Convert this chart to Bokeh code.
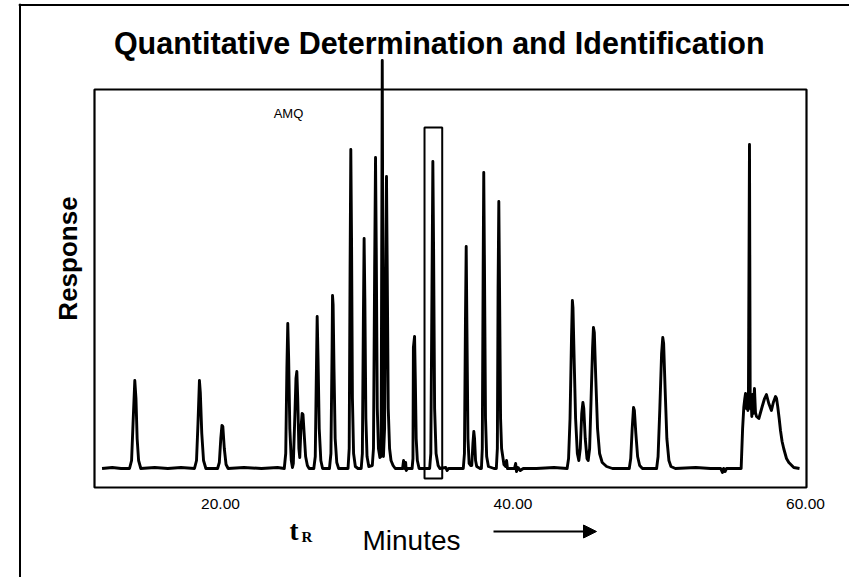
from bokeh.plotting import figure
from bokeh.models import Range1d, FixedTicker, BoxAnnotation, Span, Label, Arrow, NormalHead
from bokeh.embed import file_html
from bokeh.resources import INLINE

# ---------------- data ----------------
trace_minutes = [
    11.90, 12.60, 13.20,
    13.78, 13.92, 14.02, 14.14, 14.22, 14.30, 14.40, 14.55,
    15.50, 16.40, 17.30,
    18.22, 18.36, 18.46, 18.56, 18.62, 18.72, 18.84, 19.00,
    19.80, 19.92, 20.02, 20.10, 20.16, 20.26, 20.38, 20.52,
    21.60, 22.80, 23.90,
    24.36, 24.46, 24.54, 24.60, 24.66, 24.74, 24.84, 24.92,
    24.98, 25.10, 25.16, 25.22, 25.28, 25.36, 25.42,
    25.50, 25.58, 25.64, 25.72, 25.82, 25.94, 26.06,
    26.38, 26.48, 26.55, 26.61, 26.67, 26.75, 26.86, 26.98,
    27.45, 27.55, 27.63, 27.66, 27.70, 27.76, 27.84, 27.95, 28.08,
    28.72, 28.80, 28.86, 28.91, 28.96, 29.02, 29.10, 29.22, 29.40,
    29.62, 29.70, 29.77, 29.82, 29.87, 29.94, 30.02, 30.14,
    30.38, 30.46, 30.54, 30.60, 30.65, 30.72, 30.80, 30.90,
    30.98, 31.03, 31.06, 31.09, 31.14,
    31.22, 31.30, 31.35, 31.40, 31.47, 31.56, 31.66, 31.80, 31.95,
    32.45, 32.52, 32.56, 32.66, 32.70, 32.80,
    33.10, 33.16, 33.19, 33.27, 33.32, 33.38, 33.46, 33.58,
    34.30, 34.38, 34.46, 34.52, 34.57, 34.64, 34.74, 34.88, 35.00,
    35.40, 35.50, 35.60, 36.30,
    36.60, 36.68, 36.75, 36.80, 36.85, 36.92, 37.00, 37.10,
    37.18, 37.26, 37.32, 37.37, 37.44, 37.52, 37.75,
    37.84, 37.90, 37.96, 38.00, 38.05, 38.12, 38.20, 38.32, 38.70,
    38.86, 38.93, 38.98, 39.03, 39.08, 39.15, 39.22, 39.30, 39.38, 39.50, 39.56, 39.62,
    40.10, 40.18, 40.24, 40.34, 40.50, 40.70, 41.60, 42.80,
    43.70, 43.80, 43.90, 44.00, 44.06, 44.10, 44.18, 44.28, 44.40, 44.50,
    44.60, 44.70, 44.78, 44.84, 44.94, 45.06, 45.14,
    45.24, 45.34, 45.44, 45.50, 45.56, 45.66, 45.78, 45.92, 46.10, 46.40, 46.80,
    47.95, 48.05, 48.15, 48.24, 48.30, 48.40, 48.52, 48.66, 48.85,
    49.82, 49.92, 50.04, 50.16, 50.24, 50.30, 50.40, 50.52, 50.66, 50.80, 51.10,
    52.50, 53.50, 54.20, 54.32, 54.40, 54.50, 54.60, 55.50,
    55.60, 55.70, 55.78, 55.85, 55.90, 55.95, 56.01, 56.06, 56.10, 56.17,
    56.22, 56.28, 56.33, 56.38, 56.42, 56.51, 56.58, 56.65, 56.81, 57.04,
    57.20, 57.33, 57.49, 57.67, 57.80, 57.95, 58.02, 58.10, 58.20, 58.29,
    58.40, 58.51, 58.70, 58.86, 59.20, 59.59,
]
trace_response = [
    0, 1, 0,
    0, 8, 45, 88, 70, 30, 8, 0,
    1, 0, 1,
    0, 8, 45, 88, 76, 35, 8, 0,
    0, 6, 30, 43, 42, 20, 4, 0,
    1, 0, 1,
    0, 15, 100, 145, 110, 40, 8, 1,
    5, 60, 90, 97, 70, 20, 11,
    40, 55, 54, 35, 12, 3, 0,
    0, 12, 90, 152, 110, 40, 8, 0,
    0, 15, 120, 173, 164, 100, 30, 6, 0,
    0, 20, 200, 319, 230, 70, 15, 2, 0,
    0, 15, 150, 230, 170, 50, 12, 2,
    3, 20, 200, 311, 220, 60, 20, 11,
    12, 250, 408, 250, 12,
    40, 200, 292, 200, 60, 20, 8, 3, 0,
    0, 8, 0, 6, -2, 0,
    0, 10, 121, 132, 90, 30, 8, 0,
    0, 15, 180, 307, 220, 60, 15, 3, 0,
    1, -2, 0, 0,
    0, 15, 150, 222, 140, 30, 5, 3,
    3, 25, 37, 30, 8, 2, 0,
    0, 20, 200, 296, 200, 50, 12, 2, 0,
    0, 20, 180, 267, 180, 50, 20, 12, 4, 2, 8, 0,
    0, 5, -3, 1, -2, 0, 0, 1,
    0, 10, 50, 130, 168, 161, 110, 50, 15, 8,
    20, 55, 66, 60, 30, 10, 8,
    20, 70, 120, 141, 136, 90, 40, 15, 6, 2, 0,
    0, 10, 40, 61, 58, 35, 12, 3, 0,
    0, 12, 60, 115, 131, 125, 80, 30, 8, 2, 0,
    1, 0, 0, -4, 0, -3, 0, 0,
    0, 40, 61, 70, 75, 60, 72, 58, 78, 324,
    60, 70, 52, 74, 55, 80, 56, 52, 50, 62,
    70, 74, 65, 58, 66, 72, 70, 62, 50, 38,
    27, 20, 10, 6, 1, 0,
]
tick_values = [20, 40, 60]
tick_labels = ["20.00", "40.00", "60.00"]
highlight_minutes = [33.95, 35.16]   # window marked around the peak at ~34.5 min
highlight_response = [-10, 341]

title_text = "Quantitative Determination and  Identification"
sample_text = "AMQ"
y_label_text = "Response"
x_label_text = "Minutes"

# ---------------- layout helpers (canvas pixels -> data units) ----------------
PX_PER_MIN = 14.625
def t_at(px):
    return 20 + (px - 220) / PX_PER_MIN

def r_at(py):
    return 468 - py

W, H = 849, 577
FL, FT = 18, 3   # frame left / top in canvas pixels
p = figure(width=W, height=H, output_backend="svg", toolbar_location=None, title=None,
           x_range=Range1d(t_at(FL), t_at(W)), y_range=Range1d(r_at(H), r_at(FT)),
           min_border_left=FL, min_border_top=FT, min_border_right=0, min_border_bottom=0)
p.background_fill_color = "white"
p.border_fill_color = "white"
p.outline_line_color = None
p.grid.visible = False
p.yaxis.visible = False

xa = p.xaxis[0]
xa.fixed_location = r_at(487)
xa.ticker = FixedTicker(ticks=tick_values)
xa.major_label_overrides = {v: s for v, s in zip(tick_values, tick_labels)}
xa.axis_line_color = None
xa.major_tick_line_color = None
xa.minor_tick_line_color = None
xa.major_tick_out = 0
xa.major_tick_in = 0
xa.major_label_standoff = 11
xa.major_label_text_font = "Liberation Sans"
xa.major_label_text_font_size = "15.5px"
xa.major_label_text_color = "black"

# outer page frame (left and top edges)
p.add_layout(Span(location=t_at(19.5), dimension="height", line_color="black", line_width=2))
p.add_layout(Span(location=r_at(4.5), dimension="width", line_color="black", line_width=2))

# plot box
p.add_layout(BoxAnnotation(left=t_at(94), right=t_at(806), bottom=r_at(487), top=r_at(89),
                           fill_alpha=0, line_color="black", line_alpha=1, line_width=2.2))

# highlight window
p.add_layout(BoxAnnotation(left=highlight_minutes[0], right=highlight_minutes[1],
                           bottom=highlight_response[0], top=highlight_response[1],
                           fill_alpha=0, line_color="black", line_alpha=1, line_width=2))

# chromatogram trace
p.line(trace_minutes, trace_response, line_color="black", line_width=2.9, line_join="round")

# texts
p.add_layout(Label(x=t_at(443), y=r_at(42), text=title_text, text_font="Liberation Sans",
                   text_font_style="bold", text_font_size="30.5px", text_align="center",
                   text_baseline="middle", text_color="black"))
p.add_layout(Label(x=t_at(288), y=r_at(113), text=sample_text, text_font="Liberation Sans",
                   text_font_size="13px", text_align="center", text_baseline="middle",
                   text_color="black"))
p.add_layout(Label(x=t_at(67), y=r_at(258), text=y_label_text, text_font="Liberation Sans",
                   text_font_style="bold", text_font_size="26px", text_align="center",
                   text_baseline="middle", angle=90, angle_units="deg", text_color="black"))
p.add_layout(Label(x=t_at(289), y=r_at(530), text="t", text_font="Liberation Serif",
                   text_font_style="bold", text_font_size="27px", text_align="left",
                   text_baseline="alphabetic", text_color="black"))
p.add_layout(Label(x=t_at(301), y=r_at(536), text="R", text_font="Liberation Serif",
                   text_font_style="bold", text_font_size="15px", text_align="left",
                   text_baseline="alphabetic", text_color="black"))
p.add_layout(Label(x=t_at(411), y=r_at(540), text=x_label_text, text_font="Liberation Sans",
                   text_font_size="28px", text_align="center", text_baseline="alphabetic",
                   text_color="black"))
p.add_layout(Arrow(end=NormalHead(size=13, fill_color="black", line_color="black"),
                   x_start=t_at(493), y_start=r_at(531), x_end=t_at(596), y_end=r_at(531),
                   line_color="black", line_width=2))

open("out.html", "w").write(file_html(p, INLINE))
